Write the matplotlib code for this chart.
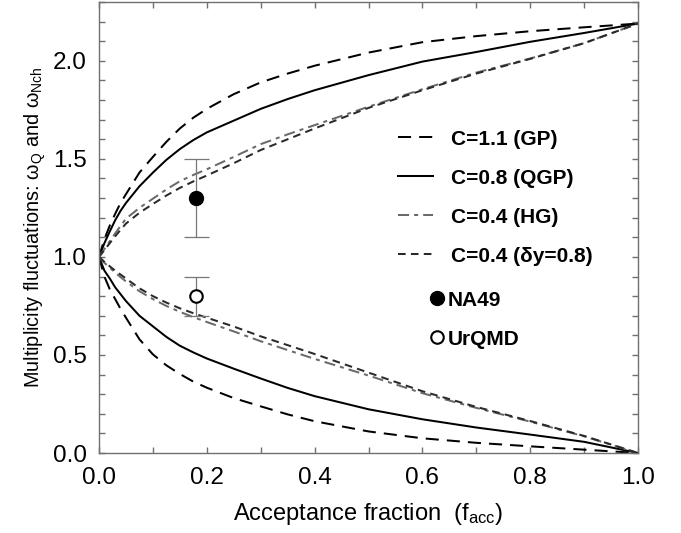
import matplotlib; matplotlib.use("Agg")
import matplotlib.pyplot as plt
from matplotlib.lines import Line2D
from matplotlib.ticker import MultipleLocator

# acceptance fraction grid and curves
F_ACC = [0.0, 0.01, 0.02, 0.03, 0.04, 0.05, 0.075, 0.1, 0.125, 0.15, 0.175, 0.2,
         0.25, 0.3, 0.35, 0.4, 0.5, 0.6, 0.7, 0.8, 0.9, 1.0]

GP_UP = [1.0, 1.09, 1.16, 1.22, 1.275, 1.32, 1.43, 1.51, 1.587, 1.655, 1.71, 1.755,
         1.83, 1.89, 1.935, 1.975, 2.042, 2.095, 2.126, 2.151, 2.171, 2.19]
QGP_UP = [1.0, 1.07, 1.13, 1.187, 1.235, 1.275, 1.36, 1.43, 1.495, 1.55, 1.596, 1.635,
          1.695, 1.755, 1.805, 1.85, 1.927, 1.996, 2.045, 2.097, 2.142, 2.19]
HG_UP = [1.0, 1.04, 1.08, 1.12, 1.158, 1.195, 1.25, 1.297, 1.344, 1.386, 1.418, 1.447,
         1.51, 1.575, 1.625, 1.672, 1.766, 1.855, 1.94, 2.012, 2.09, 2.19]
DY_UP = [1.0, 1.035, 1.07, 1.105, 1.138, 1.17, 1.225, 1.27, 1.313, 1.352, 1.385, 1.415,
         1.478, 1.545, 1.60, 1.655, 1.76, 1.85, 1.935, 2.01, 2.09, 2.19]

GP_LO = [1.0, 0.90, 0.835, 0.785, 0.735, 0.69, 0.58, 0.503, 0.447, 0.403, 0.364, 0.333,
         0.28, 0.238, 0.197, 0.162, 0.110, 0.075, 0.052, 0.034, 0.017, 0.0]
QGP_LO = [1.0, 0.93, 0.89, 0.845, 0.81, 0.775, 0.70, 0.646, 0.592, 0.547, 0.513, 0.482,
          0.43, 0.38, 0.332, 0.29, 0.223, 0.172, 0.13, 0.094, 0.057, 0.0]
HG_LO = [1.0, 0.97, 0.945, 0.92, 0.897, 0.875, 0.825, 0.785, 0.75, 0.72, 0.693, 0.668,
         0.62, 0.57, 0.525, 0.48, 0.395, 0.305, 0.23, 0.16, 0.085, 0.0]
DY_LO = [1.0, 0.975, 0.952, 0.93, 0.91, 0.89, 0.84, 0.80, 0.767, 0.738, 0.713, 0.69,
         0.645, 0.595, 0.55, 0.505, 0.41, 0.315, 0.235, 0.163, 0.087, 0.0]

# data points: x, y, error
NA49 = (0.18, 1.30, 0.20)
URQMD = (0.18, 0.80, 0.10)

plt.rcParams["font.family"] = ["Liberation Sans", "DejaVu Sans"]
plt.rcParams["mathtext.fontset"] = "custom"
plt.rcParams["mathtext.rm"] = "Liberation Sans"
plt.rcParams["mathtext.it"] = "Liberation Sans:italic"
plt.rcParams["mathtext.bf"] = "Liberation Sans:bold"

AX_COL = "#707070"
LW = 1.45

fig = plt.figure(figsize=(6.81, 5.33), dpi=100)
ax = fig.add_axes([99/681, 1-453/533, 539/681, 451/533])

sty = {
    "gp": dict(color="black", lw=LW, dashes=(6.5, 4.0)),
    "qgp": dict(color="black", lw=LW, ls="-"),
    "hg": dict(color="#6a6a6a", lw=LW, dashes=(5.5, 2.5, 2.0, 2.5)),
    "dy": dict(color="#2a2a2a", lw=LW, dashes=(3.8, 2.6)),
}
ax.plot(F_ACC, GP_UP, **sty["gp"])
ax.plot(F_ACC, GP_LO, **sty["gp"])
ax.plot(F_ACC, QGP_UP, **sty["qgp"])
ax.plot(F_ACC, QGP_LO, **sty["qgp"])
ax.plot(F_ACC, HG_UP, **sty["hg"])
ax.plot(F_ACC, HG_LO, **sty["hg"])
ax.plot(F_ACC, DY_UP, **sty["dy"])
ax.plot(F_ACC, DY_LO, **sty["dy"])

ax.errorbar([NA49[0]], [NA49[1]], yerr=[NA49[2]], fmt="none", ecolor="#777777",
            elinewidth=0.9, capsize=9, capthick=0.9)
ax.errorbar([URQMD[0]], [URQMD[1]], yerr=[URQMD[2]], fmt="none", ecolor="#777777",
            elinewidth=0.9, capsize=9, capthick=0.9)
ax.plot([NA49[0]], [NA49[1]], "o", ms=10, mfc="black", mec="black", zorder=5)
ax.plot([URQMD[0]], [URQMD[1]], "o", ms=9, mfc="white", mec="black", mew=1.5, zorder=5)

ax.set_xlim(0, 1)
ax.set_ylim(0, 2.3)
ax.xaxis.set_major_locator(MultipleLocator(0.2))
ax.xaxis.set_minor_locator(MultipleLocator(0.1))
ax.yaxis.set_major_locator(MultipleLocator(0.5))
ax.yaxis.set_minor_locator(MultipleLocator(0.1))
ax.tick_params(which="both", direction="in", top=True, right=True, length=4,
               width=1, color=AX_COL, labelsize=17.5)
ax.tick_params(axis="x", pad=10)
ax.tick_params(axis="y", pad=9)
ax.set_xticks([0, 0.2, 0.4, 0.6, 0.8, 1.0])
ax.set_xticklabels(["0.0", "0.2", "0.4", "0.6", "0.8", "1.0"])
ax.set_yticks([0, 0.5, 1.0, 1.5, 2.0])
ax.set_yticklabels(["0.0", "0.5", "1.0", "1.5", "2.0"])
for s in ax.spines.values():
    s.set_color(AX_COL); s.set_linewidth(1)

ax.set_xlabel("Acceptance fraction  (f$_{\\rm acc}$)", fontsize=17, labelpad=9)
ax.set_ylabel("Multiplicity fluctuations: \u03c9$_{\\rm Q}$ and \u03c9$_{\\rm Nch}$",
              fontsize=14.3, labelpad=3)

h_lines = [Line2D([], [], **sty[k]) for k in ("gp", "qgp", "hg", "dy")]
lab_lines = ["C=1.1 (GP)", "C=0.8 (QGP)", "C=0.4 (HG)", "C=0.4 (\u03b4y=0.8)"]
leg1 = ax.legend(h_lines, lab_lines, loc="upper left", bbox_to_anchor=(0.555, 0.717),
                 frameon=False, borderpad=0, borderaxespad=0, handlelength=1.65,
                 handletextpad=0.87, labelspacing=0.96,
                 prop={"size": 15, "weight": "bold"})
ax.add_artist(leg1)

h_pts = [Line2D([], [], ls="none", marker="o", ms=10, mfc="black", mec="black"),
         Line2D([], [], ls="none", marker="o", ms=9, mfc="white", mec="black", mew=1.5)]
ax.legend(h_pts, ["NA49", "UrQMD"], loc="upper left", bbox_to_anchor=(0.612, 0.36),
          frameon=False, borderpad=0, borderaxespad=0, handlelength=0.8,
          handletextpad=0.1, labelspacing=0.96, numpoints=1,
          prop={"size": 15, "weight": "bold"})

fig.savefig("out.png", dpi=100)
